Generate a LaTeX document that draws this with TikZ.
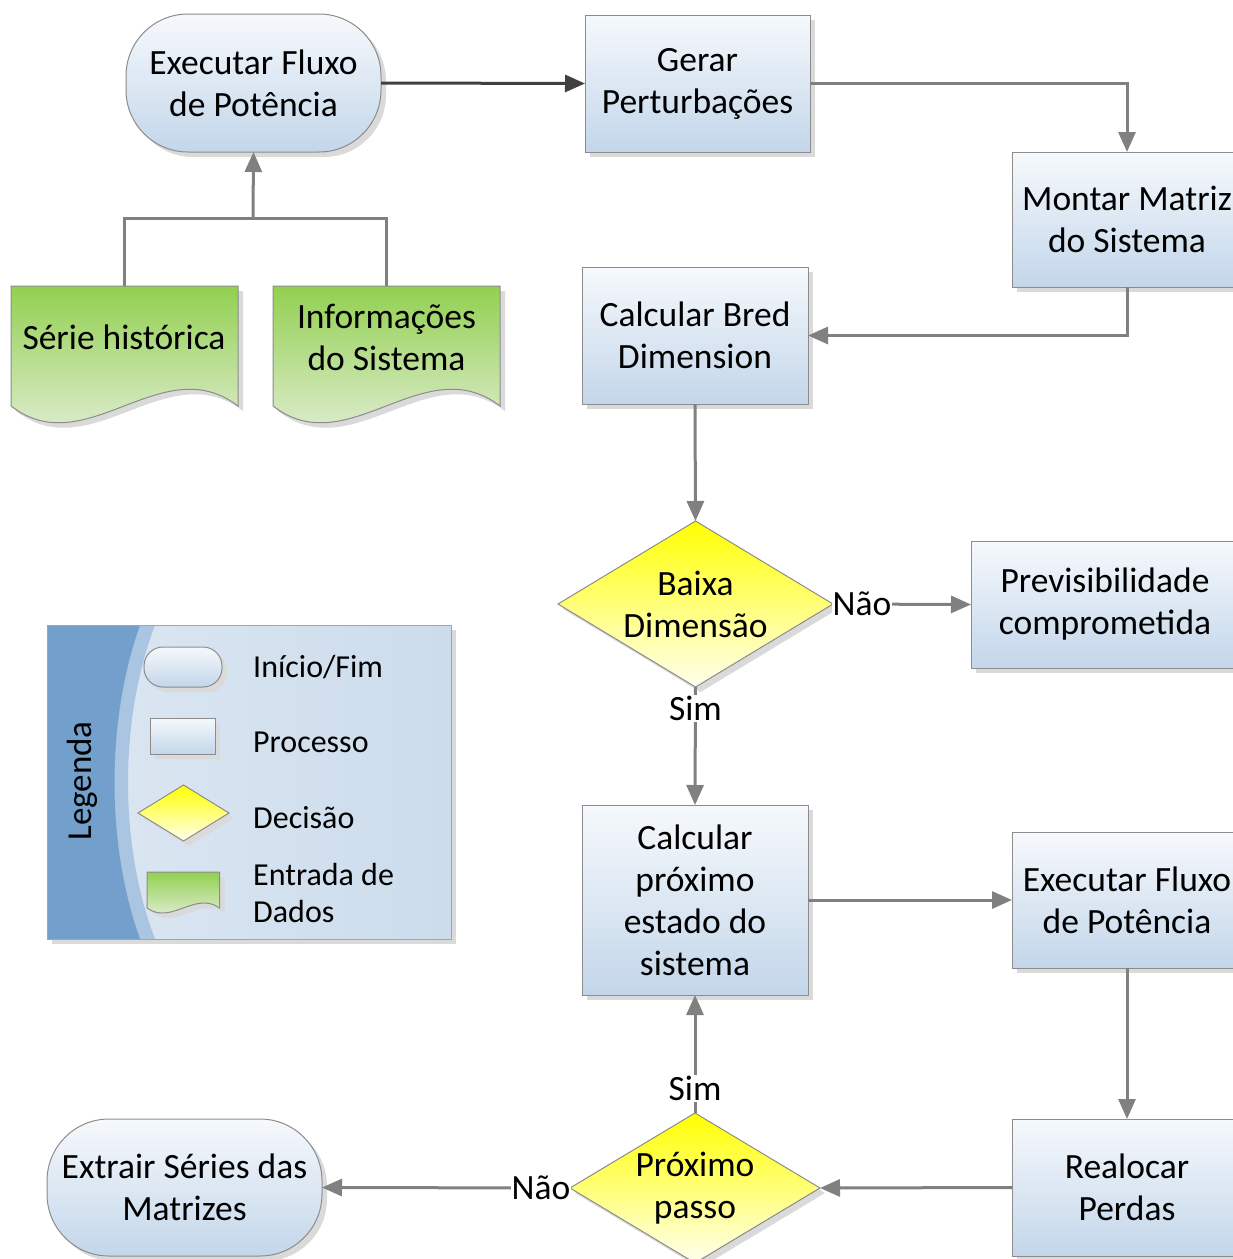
\documentclass[tikz,border=0pt]{standalone}
\usepackage{fontspec}
\setmainfont{Carlito}
\usetikzlibrary{arrows.meta,shapes.geometric,shadows,calc}
\definecolor{boxtop}{HTML}{F6F9FC}
\definecolor{boxbot}{HTML}{C3D6EA}
\definecolor{edgec}{HTML}{8C8C8C}
\definecolor{connc}{HTML}{808080}
\definecolor{darkconn}{HTML}{404040}
\definecolor{shad}{HTML}{DADADA}
\definecolor{greentop}{HTML}{92D050}
\definecolor{greenbot}{HTML}{EEF2EA}
\definecolor{legl}{HTML}{DDE7F2}
\definecolor{legr}{HTML}{CCDCEC}
\definecolor{legdark}{HTML}{729FCB}
\definecolor{leglight}{HTML}{A9C5E1}
\definecolor{legedge}{HTML}{86ACD6}
\definecolor{yelbot}{HTML}{FFFFF0}
\newcommand\mfs{\fontsize{35.5}{42}\selectfont}
\newcommand\lfs{\fontsize{32}{37}\selectfont}
\begin{document}
\begin{tikzpicture}[x=1pt,y=-1pt,
 shadowed/.style={drop shadow={shadow xshift=5pt, shadow yshift=-5pt, fill=shad, opacity=1}},
 base/.style={draw=edgec, line width=1pt, top color=boxtop, bottom color=boxbot, inner sep=0pt, outer sep=0pt, align=center, font=\mfs, shadowed},
 proc/.style={base, rectangle},
 term/.style={base, rectangle, rounded corners=62pt},
 dec/.style={draw=edgec, line width=1pt, diamond, top color=yellow, bottom color=yelbot, inner sep=0pt, outer sep=0pt, shadowed},
 txt/.style={font=\mfs, align=center, inner sep=0pt},
 ltxt/.style={font=\lfs, align=left, inner sep=0pt, anchor=west},
 conn/.style={draw=connc, line width=3pt, -{Triangle[length=20pt,width=17pt]}},
 dconn/.style={conn, draw=darkconn},
 plain/.style={draw=connc, line width=3pt},
 lbl/.style={fill=white, inner sep=1pt, font=\mfs},
 docpath/.style={draw=edgec, line width=1pt, top color=greentop, bottom color=greenbot}
]
\useasboundingbox (0,0) rectangle (1233,1259);
\fill[white] (0,0) rectangle (1233,1259);

% ---- input documents ----
\foreach \xx in {11,273}{
  \begin{scope}[shift={(\xx+5,291)}]
    \fill[shad] (0,0) -- (227,0) -- (227,120) .. controls (151,62) and (75,178) .. (0,120) -- cycle;
  \end{scope}
  \begin{scope}[shift={(\xx,286)}]
    \path[docpath] (0,0) -- (227,0) -- (227,120) .. controls (151,62) and (75,178) .. (0,120) -- cycle;
  \end{scope}
}
\node[txt, minimum width=227pt, minimum height=102pt] (sh) at (124,337) {Série histórica};
\node[txt, minimum width=227pt, minimum height=102pt] (io) at (386.5,337) {Informações\\do Sistema};

% ---- main nodes ----
\node[term, minimum width=255pt, minimum height=138pt] (t1) at (253.5,83) {Executar Fluxo\\de Potência};
\node[proc, minimum width=225pt, minimum height=137pt] (gp) at (697.5,83.5) {Gerar\\Perturbações};
\node[proc, minimum width=230pt, minimum height=135pt] (mm) at (1127,219.5) {Montar Matriz\\do Sistema};
\node[proc, minimum width=226pt, minimum height=137pt] (cb) at (695,335.5) {Calcular Bred\\Dimension};
\node[dec, minimum width=275pt, minimum height=166pt] (d1) at (695.5,604) {};
\node[txt] (d1t) at (d1) {Baixa\\Dimensão};
\node[proc, minimum width=268pt, minimum height=127pt] (pc) at (1105,604.5) {Previsibilidade\\comprometida};
\node[proc, minimum width=226pt, minimum height=190pt] (cp) at (695,900) {Calcular\\próximo\\estado do\\sistema};
\node[proc, minimum width=230pt, minimum height=136pt] (ef) at (1127,900) {Executar Fluxo\\de Potência};
\node[proc, minimum width=230pt, minimum height=137pt] (rp) at (1127,1187.5) {Realocar\\Perdas};
\node[dec, minimum width=250pt, minimum height=150pt] (d2) at (695,1188) {};
\node[txt] (d2t) at (d2) {Próximo\\passo};
\node[term, minimum width=275pt, minimum height=137pt] (ex) at (184.5,1187.5) {Extrair Séries das\\Matrizes};

% ---- connectors ----
\coordinate (jn) at (253,218);
\draw[plain] (sh.north) |- (jn);
\draw[plain] (io.north) |- (jn);
\draw[conn] (jn) -- (t1.south);
\draw[dconn] (t1.east) -- (gp.west);
\draw[conn] (gp.east) -| (mm.north);
\draw[conn] (mm.south) |- (cb.east);
\draw[conn] (cb.south) -- (d1.north);
\draw[conn] (d1.east) -- node[lbl, pos=0.21] (l1) {Não} (pc.west);
\draw[conn] (d1.south) -- node[lbl, pos=0.18] (l2) {Sim} (cp.north);
\draw[conn] (cp.east) -- (ef.west);
\draw[conn] (ef.south) -- (rp.north);
\draw[conn] (rp.west) -- (d2.east);
\draw[conn] (d2.north) -- node[lbl, pos=0.21] (l3) {Sim} (cp.south);
\draw[conn] (d2.west) -- node[lbl, pos=0.117] (l4) {Não} (ex.east);

% ---- legend ----
\fill[shad] (52,630) rectangle (456,944);
\shade[left color=legl, right color=legr] (47,625) rectangle (451,939);
\fill[leglight] (47,625) -- (155,625) .. controls (119,720) and (119,845) .. (155,939) -- (47,939) -- cycle;
\fill[legdark] (47,625) -- (140,625) .. controls (106,720) and (106,845) .. (140,939) -- (47,939) -- cycle;
\draw[legedge, line width=1pt] (47,625) rectangle (451,939);
\node[rotate=90, font=\fontsize{35}{40}\selectfont, inner sep=0pt] (lg) at (82,781) {Legenda};

\node[term, minimum width=78pt, minimum height=40pt, rounded corners=19pt] (li1) at (183,667) {};
\node[proc, minimum width=65pt, minimum height=36pt] (li2) at (182.5,736) {};
\node[dec, minimum width=91pt, minimum height=56pt] (li3) at (183.5,813) {};
\begin{scope}[shift={(152,877)}, xscale=0.32, yscale=0.3]
  \fill[shad] (0,0) -- (227,0) -- (227,120) .. controls (151,62) and (75,178) .. (0,120) -- cycle;
\end{scope}
\begin{scope}[shift={(147,872)}, xscale=0.32, yscale=0.3]
  \path[docpath] (0,0) -- (227,0) -- (227,120) .. controls (151,62) and (75,178) .. (0,120) -- cycle;
\end{scope}
\node[ltxt] (lt1) at (253,667) {Início/Fim};
\node[ltxt] (lt2) at (253,742) {Processo};
\node[ltxt] (lt3) at (253,818) {Decisão};
\node[ltxt] (lt4) at (253,893) {Entrada de\\Dados};
\end{tikzpicture}
\end{document}
